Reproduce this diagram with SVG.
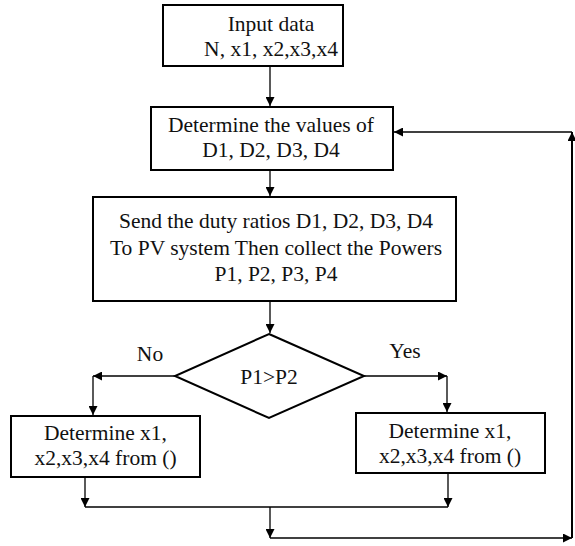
<svg xmlns="http://www.w3.org/2000/svg" width="575" height="546" viewBox="0 0 575 546">
  <defs>
    <marker id="arrow" viewBox="0 0 10 10" refX="10" refY="5" markerWidth="10" markerHeight="9" markerUnits="userSpaceOnUse" orient="auto">
      <path d="M0,0 L10,5 L0,10 Z" fill="#000"/>
    </marker>
    <style>
      .box { fill: #fff; stroke: #000; stroke-width: 2; }
      .link { fill: none; stroke: #000; stroke-width: 1.3; }
      .arr { marker-end: url(#arrow); }
      .lbl { font-family: 'Liberation Serif', 'DejaVu Serif', 'Times New Roman', serif; font-size: 21.5px; fill: #111; text-anchor: middle; }
    </style>
  </defs>

  <rect width="575" height="546" fill="#fff"/>

  <!-- connectors -->
  <g id="connectors">
    <line class="link arr" x1="270" y1="66" x2="270" y2="106"/>
    <line class="link arr" x1="270" y1="170" x2="270" y2="196"/>
    <line class="link arr" x1="270" y1="301" x2="270" y2="333"/>
    <line class="link arr" x1="175" y1="376" x2="93" y2="376"/>
    <line class="link arr" x1="93" y1="376" x2="93" y2="415"/>
    <line class="link arr" x1="364" y1="376" x2="447" y2="376"/>
    <line class="link arr" x1="447" y1="376" x2="447" y2="412"/>
    <line class="link arr" x1="85" y1="477" x2="85" y2="507"/>
    <line class="link arr" x1="448" y1="473" x2="448" y2="507"/>
    <line class="link" x1="85" y1="507" x2="448" y2="507"/>
    <line class="link arr" x1="270" y1="507" x2="270" y2="538"/>
    <line class="link arr" x1="270" y1="538" x2="572" y2="538"/>
    <line class="link arr" x1="572" y1="538" x2="572" y2="132" style="stroke-width:2"/>
    <line class="link arr" x1="572" y1="132" x2="394" y2="132"/>
  </g>

  <g font-family="Liberation Serif, DejaVu Serif, serif">
    <g id="input">
      <rect class="box" x="163" y="5" width="180" height="61"/>
      <text class="lbl" x="271" y="31">Input data</text>
      <text class="lbl" x="271" y="56">N, x1, x2,x3,x4</text>
    </g>

    <g id="determine-d">
      <rect class="box" x="151" y="107" width="242" height="63"/>
      <text class="lbl" x="271" y="132">Determine the values of</text>
      <text class="lbl" x="271" y="157">D1, D2, D3, D4</text>
    </g>

    <g id="send-collect">
      <rect class="box" x="93" y="197" width="363" height="104"/>
      <text class="lbl" x="276" y="228">Send the duty ratios D1, D2, D3, D4</text>
      <text class="lbl" x="276" y="255">To PV system Then collect the Powers</text>
      <text class="lbl" x="276" y="281">P1, P2, P3, P4</text>
    </g>

    <g id="decision">
      <polygon class="box" points="269,334 364,376 269,418 175,376"/>
      <text class="lbl" x="269" y="384">P1&gt;P2</text>
    </g>

    <g id="label-no">
      <text class="lbl" x="150" y="361">No</text>
    </g>
    <g id="label-yes">
      <text class="lbl" x="405" y="358">Yes</text>
    </g>

    <g id="update-no">
      <rect class="box" x="11" y="416" width="189" height="61"/>
      <text class="lbl" x="105.5" y="440">Determine x1,</text>
      <text class="lbl" x="105.5" y="465">x2,x3,x4 from ()</text>
    </g>

    <g id="update-yes">
      <rect class="box" x="356" y="413" width="189" height="60"/>
      <text class="lbl" x="450" y="438">Determine x1,</text>
      <text class="lbl" x="450" y="463">x2,x3,x4 from ()</text>
    </g>
  </g>
</svg>
